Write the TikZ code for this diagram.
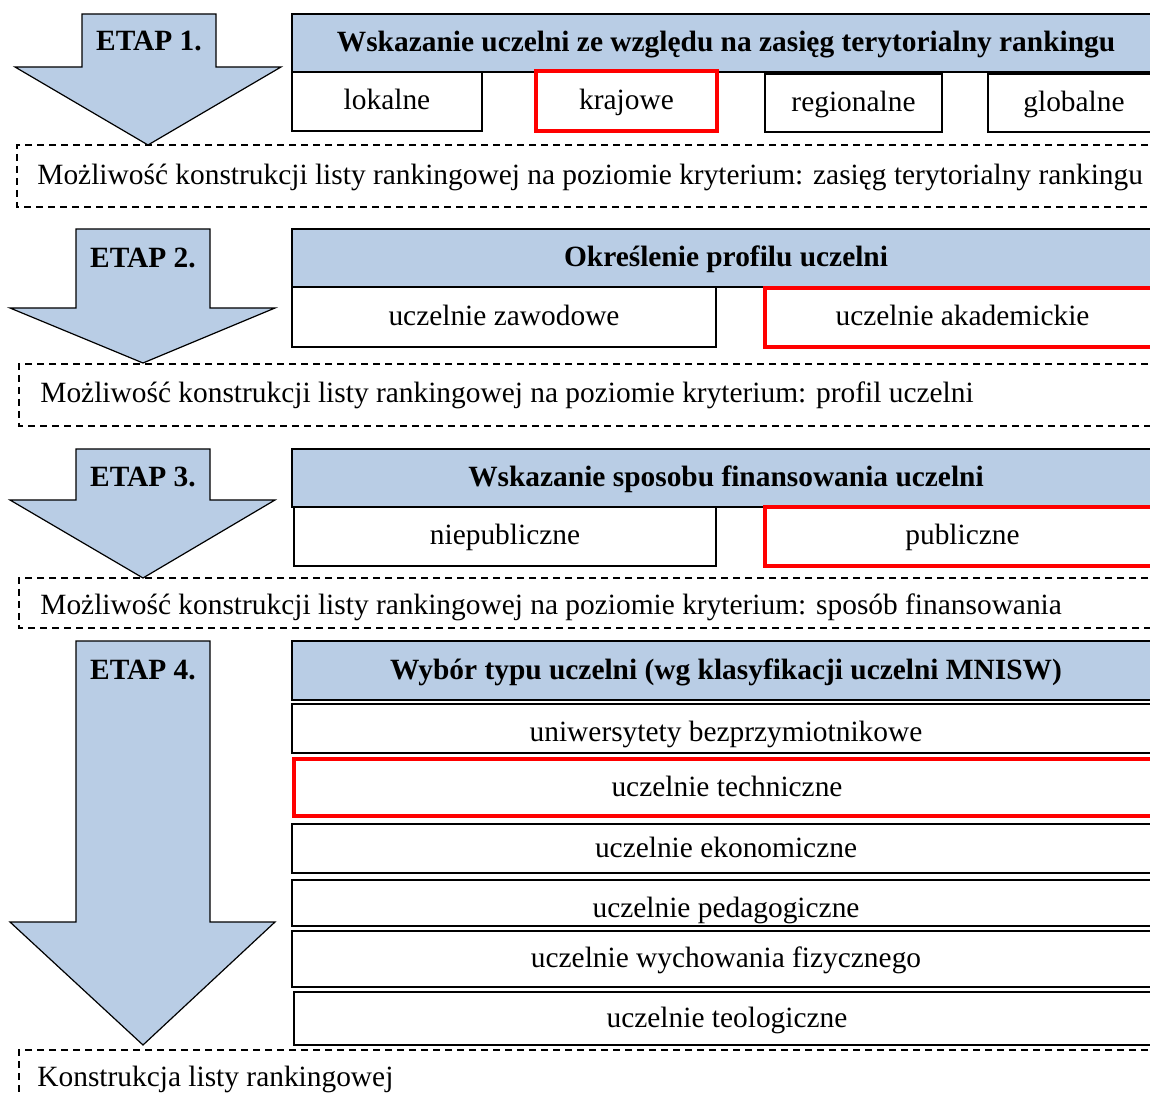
\documentclass[tikz,border=0pt]{standalone}
\usepackage{fontspec}
\setmainfont{Liberation Serif}
\usetikzlibrary{positioning}
\definecolor{etapblue}{RGB}{185,205,229}

\begin{document}
\begin{tikzpicture}[x=0.5pt,y=-0.5pt,
    every node/.style={font=\fontsize{14.7}{17}\selectfont, inner sep=0pt, text height=11pt, text depth=2.5pt},
    naglowek/.style={draw, line width=1pt, fill=etapblue},
    pole/.style={draw, line width=1pt, fill=white},
    wybor/.style={draw=red, line width=2pt, fill=white},
    kryterium/.style={draw, line width=0.8pt, dash pattern=on 3.5pt off 2.5pt},
    strzalka/.style={draw, line width=0.6pt, fill=etapblue}]
                \useasboundingbox (0,0) rectangle (1150,1095);
                \clip (0,0) rectangle (1150,1095);
                % etap 1
                \filldraw[strzalka] (82,14) -- (216,14) -- (216,67) -- (281,67) -- (148,145) -- (15,67) -- (82,67) -- cycle;
                \node[font=\fontsize{14.7}{17}\selectfont\bfseries] (etap1) at (149,42) {ETAP 1.};
                \draw[naglowek] (292,14) rectangle (1160,72) node[midway, font=\fontsize{14.7}{17}\selectfont\bfseries] (zasieg) {Wskazanie uczelni ze względu na zasięg terytorialny rankingu};
                \draw[pole] (292,72) rectangle (482,131) node[midway] (lokalne) {lokalne};
                \draw[wybor] (536,71) rectangle (717,131) node[midway] (krajowe) {krajowe};
                \draw[pole] (765,74) rectangle (942,132) node[midway] (regionalne) {regionalne};
                \draw[pole] (988,74) rectangle (1160,132) node[midway] (globalne) {globalne};
                \draw[kryterium] (1160,145) -| (17,207) -- (1160,207);
                \node[anchor=west] (lista1) at (37,176) {Możliwość konstrukcji listy rankingowej na poziomie kryterium: zasięg terytorialny rankingu};
                % etap 2
                \filldraw[strzalka] (76,229) -- (210,229) -- (210,308) -- (275,308) -- (143,363) -- (10,308) -- (76,308) -- cycle;
                \node[font=\fontsize{14.7}{17}\selectfont\bfseries] (etap2) at (143,259) {ETAP 2.};
                \draw[naglowek] (292,229) rectangle (1160,287) node[midway, font=\fontsize{14.7}{17}\selectfont\bfseries] (profil) {Określenie profilu uczelni};
                \draw[pole] (292,287) rectangle (716,347) node[midway] (zawodowe) {uczelnie zawodowe};
                \draw[wybor] (765,288) rectangle (1160,347) node[midway] (akademickie) {uczelnie akademickie};
                \draw[kryterium] (1160,364) -| (19,426) -- (1160,426);
                \node[anchor=west] (lista2) at (40,394) {Możliwość konstrukcji listy rankingowej na poziomie kryterium: profil uczelni};
                % etap 3
                \filldraw[strzalka] (76,449) -- (210,449) -- (210,500) -- (275,500) -- (143,578) -- (10,500) -- (76,500) -- cycle;
                \node[font=\fontsize{14.7}{17}\selectfont\bfseries] (etap3) at (143,478) {ETAP 3.};
                \draw[naglowek] (292,449) rectangle (1160,507) node[midway, font=\fontsize{14.7}{17}\selectfont\bfseries] (finanse) {Wskazanie sposobu finansowania uczelni};
                \draw[pole] (294,507) rectangle (716,566) node[midway] (niepubliczne) {niepubliczne};
                \draw[wybor] (765,507) rectangle (1160,566) node[midway] (publiczne) {publiczne};
                \draw[kryterium] (1160,578) -| (19,628) -- (1160,628);
                \node[anchor=west] (lista3) at (40,606) {Możliwość konstrukcji listy rankingowej na poziomie kryterium: sposób finansowania};
                % etap 4
                \filldraw[strzalka] (76,641) -- (210,641) -- (210,922) -- (275,922) -- (143,1045) -- (10,922) -- (76,922) -- cycle;
                \node[font=\fontsize{14.7}{17}\selectfont\bfseries] (etap4) at (143,671) {ETAP 4.};
                \draw[naglowek] (292,641) rectangle (1160,700) node[midway, font=\fontsize{14.7}{17}\selectfont\bfseries] (typ) {Wybór typu uczelni (wg klasyfikacji uczelni MNISW)};
                \draw[pole] (292,704) rectangle (1160,753) node[midway, yshift=-2pt] (uniwersytety) {uniwersytety bezprzymiotnikowe};
                \draw[wybor] (294,759) rectangle (1160,816) node[midway] (techniczne) {uczelnie techniczne};
                \draw[pole] (292,824) rectangle (1160,873) node[midway] (ekonomiczne) {uczelnie ekonomiczne};
                \draw[pole] (292,880) rectangle (1160,926) node[midway, yshift=-3pt] (pedagogiczne) {uczelnie pedagogiczne};
                \draw[pole] (292,931) rectangle (1160,987) node[midway] (wf) {uczelnie wychowania fizycznego};
                \draw[pole] (294,992) rectangle (1160,1045) node[midway] (teologiczne) {uczelnie teologiczne};
                \draw[kryterium] (1160,1050) -| (19,1110);
                \node[anchor=west] (lista4) at (37,1078) {Konstrukcja listy rankingowej};
            \end{tikzpicture}
\end{document}
